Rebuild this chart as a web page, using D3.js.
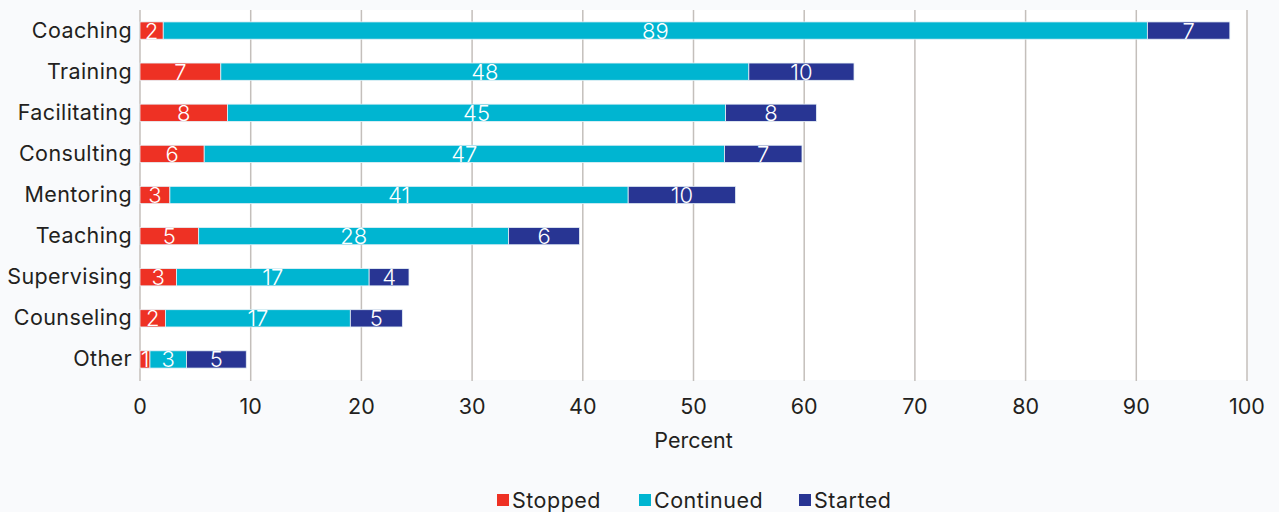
<!DOCTYPE html>
<html><head><meta charset="utf-8">
<script src="https://cdn.jsdelivr.net/npm/d3@7"></script>
<style>
html,body{margin:0;padding:0;background:#f9fafc;}
svg{display:block;font-family:"Inter","Open Sans",sans-serif;}
</style></head><body>
<svg id="c" width="1279" height="512"></svg>
<script>
const categories = ["Coaching","Training","Facilitating","Consulting","Mentoring","Teaching","Supervising","Counseling","Other"];
const stopped   = [2.1, 7.3, 7.9, 5.8, 2.7, 5.3, 3.3, 2.3, 0.9];
const continued = [88.9, 47.7, 45.0, 47.0, 41.4, 28.0, 17.4, 16.7, 3.3];
const started   = [7.45, 9.5, 8.2, 7.0, 9.7, 6.4, 3.6, 4.7, 5.4];
const seriesNames = ["Stopped","Continued","Started"];
const colors = ["#ee3124","#00b5d1","#283593"];
const xTicks = [0,10,20,30,40,50,60,70,80,90,100];

const svg = d3.select("#c");
const m = {l:140, r:1247, t:10, b:380};
const x = d3.scaleLinear().domain([0,100]).range([m.l, m.r]);
const y = d3.scaleBand().domain(categories).range([m.t, m.b]).paddingInner(0.58).paddingOuter(0.29);

svg.append("rect").attr("x",m.l).attr("y",m.t).attr("width",m.r-m.l).attr("height",m.b-m.t).attr("fill","#ffffff");

// grid
svg.append("g").selectAll("line").data(xTicks).join("line")
  .attr("x1",d=>x(d)).attr("x2",d=>x(d)).attr("y1",m.t).attr("y2",m.b+1)
  .attr("stroke","#c4bfbb").attr("stroke-width",1.5);

const rows = categories.map((c,i)=>({c, vals:[stopped[i],continued[i],started[i]]}));
const segs = [];
rows.forEach(r=>{let acc=0; r.vals.forEach((v,j)=>{segs.push({c:r.c,j,x0:acc,x1:acc+v,v}); acc+=v;});});

svg.append("g").selectAll("rect").data(segs).join("rect")
  .attr("x",d=>x(d.x0)).attr("width",d=>x(d.x1)-x(d.x0))
  .attr("y",d=>y(d.c)).attr("height",y.bandwidth())
  .attr("fill",d=>colors[d.j]).attr("stroke","#e6f0f6").attr("stroke-width",0.8);

svg.append("g").selectAll("text").data(segs).join("text")
  .attr("x",d=>(x(d.x0)+x(d.x1))/2).attr("y",d=>y(d.c)+y.bandwidth()/2+8)
  .attr("text-anchor","middle").attr("fill","#ffffff").attr("font-size",22).attr("font-weight",300)
  .text(d=>Math.round(d.v));

// category labels
svg.append("g").selectAll("text").data(categories).join("text")
  .attr("x",m.l-8).attr("y",d=>y(d)+y.bandwidth()/2+7)
  .attr("text-anchor","end").attr("fill","#231f20").attr("font-size",21.5).attr("letter-spacing",0.4).text(d=>d);

// x axis labels
svg.append("g").selectAll("text").data(xTicks).join("text")
  .attr("x",d=>x(d)).attr("y",414).attr("text-anchor","middle")
  .attr("fill","#231f20").attr("font-size",21.5).text(d=>d);

svg.append("text").attr("x",(m.l+m.r)/2).attr("y",448).attr("text-anchor","middle")
  .attr("fill","#231f20").attr("font-size",21.5).text("Percent");

// legend
const legX = [497, 639, 799];
const lg = svg.append("g").selectAll("g").data(seriesNames).join("g")
  .attr("transform",(d,i)=>`translate(${legX[i]},0)`);
lg.append("rect").attr("x",0).attr("y",494).attr("width",12).attr("height",12).attr("fill",(d,i)=>colors[i]);
lg.append("text").attr("x",15).attr("y",508).attr("fill","#231f20").attr("font-size",21.5).attr("letter-spacing",0.5).text(d=>d);
</script></body></html>
